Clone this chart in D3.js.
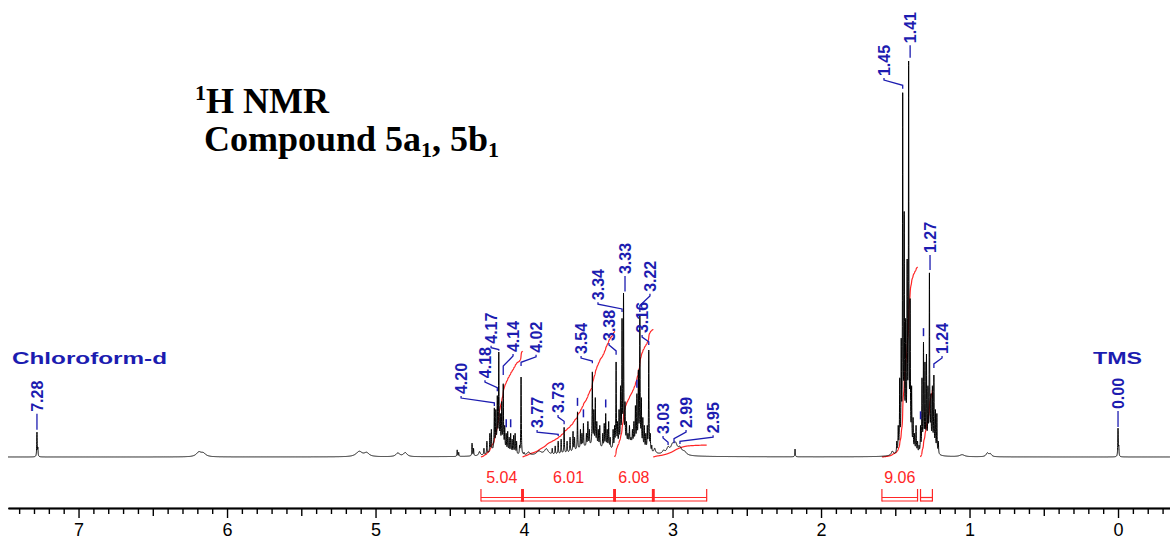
<!DOCTYPE html>
<html>
<head>
<meta charset="utf-8">
<script src="https://cdn.jsdelivr.net/npm/d3@7"></script>
<style>
  html, body { margin: 0; padding: 0; background: #fff; }
  svg { display: block; }
</style>
</head>
<body>
<svg id="chart" width="1170" height="542"></svg>
<script>
// ---- Spectrum data: sharp resonances (ppm, apex intensity, tallest = 100) ----
const peakPpm = [
  7.28, 7.274,
  4.45, 4.44, 4.35, 4.34, 4.27, 4.25, 4.23, 4.22, 4.20, 4.19, 4.18, 4.17, 4.16, 4.15, 4.14, 4.13,
  4.12, 4.11, 4.10, 4.09, 4.08, 4.07, 4.06, 4.05, 4.03, 4.02, 4.00,
  3.81, 3.79, 3.77, 3.75, 3.73, 3.71, 3.69, 3.67, 3.66, 3.64, 3.62, 3.61, 3.60, 3.58, 3.57, 3.56,
  3.54, 3.53, 3.52, 3.51, 3.50, 3.49, 3.47, 3.46, 3.45, 3.44, 3.43, 3.42, 3.40, 3.39, 3.38, 3.37,
  3.36, 3.35, 3.34, 3.33, 3.32, 3.31, 3.30, 3.29, 3.28, 3.27, 3.26, 3.25, 3.24, 3.23, 3.22, 3.21,
  3.20, 3.19, 3.18, 3.17, 3.16, 3.15, 3.14,
  2.175,
  1.49, 1.48, 1.47, 1.46, 1.45, 1.44, 1.43, 1.42, 1.41, 1.40, 1.39, 1.38, 1.37, 1.36, 1.35, 1.34,
  1.33, 1.32, 1.31, 1.30, 1.29, 1.28, 1.27, 1.26, 1.25, 1.24, 1.23, 1.22, 1.21,
  0.00, -0.005
];
const peakHeight = [
  6.3, 2.5,
  1.8, 1.2, 3.5, 2.2, 2.2, 4, 6, 7, 12.4, 12, 15.5, 26.5, 11, 14, 18.5, 8,
  6, 6.5, 5, 6, 4.5, 5.5, 6, 4, 3, 20.2, 1.2,
  2.2, 2.8, 4, 4.5, 7.5, 4, 5, 6.5, 5, 11.4, 7, 6, 8.5, 6, 9, 7,
  21.5, 12, 15, 9, 7, 8, 6, 8.5, 11, 7, 9, 5, 7, 8, 24, 9,
  12, 18, 35, 41.4, 14, 9, 6, 8, 5, 7, 9, 13, 16, 22, 35.6, 15,
  10, 8, 6, 8, 27, 6, 3,
  2,
  4, 8, 20, 30, 92, 62, 35, 50, 100, 40, 18, 10, 6, 8, 4, 3,
  8, 20, 29, 24, 26, 18, 46.5, 16, 18, 20.7, 12, 11, 4,
  7.3, 3
];
const peakHwhm = 0.0018;

// ---- Broad features (ppm, relative intensity, half width in ppm) ----
const humpPpm    = [6.19, 6.16, 5.11, 5.06, 4.85, 4.80, 4.30, 4.17, 3.97, 3.90, 3.85, 3.55, 3.28, 3.12, 3.06, 3.03, 3.00, 2.98, 2.95, 2.92, 1.52, 1.42, 1.26, 1.05, 0.88, 0.86];
const humpHeight = [1.1, 0.8, 1.3, 0.9, 0.9, 1.0, 1.0, 3.0, 0.8, 1.0, 1.5, 2.5, 3.0, 1.2, 0.8, 1.5, 2.0, 2.3, 1.6, 0.8, 1.0, 3.0, 2.5, 0.5, 0.9, 0.7];
const humpWidth  = [0.02, 0.02, 0.025, 0.02, 0.015, 0.015, 0.006, 0.04, 0.01, 0.02, 0.015, 0.12, 0.08, 0.006, 0.01, 0.012, 0.015, 0.015, 0.015, 0.015, 0.008, 0.03, 0.02, 0.02, 0.01, 0.01];

// ---- Integration regions ----
const intFrom  = [4.29, 4.01, 3.39, 3.13, 1.59, 1.33];
const intTo    = [4.01, 3.39, 3.13, 2.77, 1.35, 1.25];
const intValue = [5.04, 6.01, 6.08, 0.57, 9.06, 3.20];
const intShown = [true, true, true, false, true, false];

// ---- Peak picking labels ----
const pickPpm = [7.28, 4.20, 4.18, 4.17, 4.14, 4.02, 3.77, 3.73, 3.54, 3.38, 3.34, 3.33, 3.22, 3.16, 3.03, 2.99, 2.95, 1.45, 1.41, 1.27, 1.24, 0.00];
// unlabelled pick marks
const markPpm = [4.12, 4.09, 3.64, 3.60, 3.45, 3.24, 1.33, 1.31];

// ---- Axis ticks ----
const majorTicks = [7, 6, 5, 4, 3, 2, 1, 0];

// ---- Solvent / reference annotations ----
const solventNames = ["Chloroform-d", "TMS"];
const solventPpm = [7.28, 0.00];

// Label layout: text centre (ppm), text foot level, connector tip level
const pickTextPpm   = [7.28, 4.424, 4.263, 4.222, 4.074, 3.919, 3.912, 3.771, 3.616, 3.428, 3.502, 3.32, 3.152, 3.205, 3.064, 2.909, 2.727, 1.576, 1.40, 1.266, 1.185, 0.00];
const pickTextLevel = [11.4, 15.9, 19.9, 28.6, 26.5, 26.3, 7.3, 11.1, 26.0, 29.3, 39.6, 46.2, 41.7, 31.3, 5.8, 7.3, 6.0, 96.2, 104.5, 51.5, 26.0, 12.1];
const pickTipLevel  = [6.9, 12.9, 16.6, 26.8, 20.7, 23.0, 5.3, 8.3, 23.7, 25.8, 36.6, 41.8, 36.6, 28.3, 3.0, 3.5, 3.3, 93.0, 100.8, 47.2, 22.5, 7.6];

// ---- Scales ----
const svg = d3.select("#chart");
const x = d3.scaleLinear().domain([7.475, -0.35]).range([8, 1170]);
const y = d3.scaleLinear().domain([0, 100]).range([457, 61]);

function lorentz(p, c, h, w) { const d = p - c; return h * w * w / (w * w + d * d); }

// Line amplitudes are solved so that each apex lands on its listed height
const amp = peakHeight.slice();
function intensity(p) {
  let s = 0;
  for (let i = 0; i < peakPpm.length; i++) s += lorentz(p, peakPpm[i], amp[i], peakHwhm);
  for (let i = 0; i < humpPpm.length; i++) s += lorentz(p, humpPpm[i], humpHeight[i], humpWidth[i]);
  return s;
}
for (let it = 0; it < 40; it++) {
  const apex = peakPpm.map(intensity);
  peakPpm.forEach((p, i) => { amp[i] = Math.max(0, amp[i] + 0.7 * (peakHeight[i] - apex[i])); });
}

// Sample the spectrum finely, always including the line centres
const samplePpm = d3.range(7.475, -0.35, -0.0004).concat(peakPpm).sort((a, b) => b - a);
const spectrum = samplePpm.map(p => [p, intensity(p)]);

const line = d3.line().x(d => x(d[0])).y(d => y(d[1]));

// ---- Integral curves (cumulative area, scaled by the integral value) ----
const intUnit = 5.3; // intensity units per integral unit
const integrals = intFrom.map((a, i) => {
  const b = intTo[i];
  const ps = d3.range(a, b, -0.0004).concat([b]);
  const vals = ps.map(intensity);
  const cum = [0];
  for (let k = 1; k < ps.length; k++) cum.push(cum[k - 1] + (vals[k] + vals[k - 1]) / 2);
  const total = cum[cum.length - 1];
  return ps.map((p, k) => [p, cum[k] / total * intValue[i] * intUnit]);
});

const red = "#ff2626";
svg.append("g").selectAll("path").data(integrals).join("path")
  .attr("d", line)
  .attr("fill", "none")
  .attr("stroke", red)
  .attr("stroke-width", 1.2);

// ---- Spectrum trace ----
svg.append("path")
  .datum(spectrum)
  .attr("d", line)
  .attr("fill", "none")
  .attr("stroke", "#000")
  .attr("stroke-width", 1);

// ---- Integration brackets and values ----
const br = svg.append("g").attr("stroke", red).attr("fill", "none");
intFrom.forEach((a, i) => {
  const x0 = x(a), x1 = x(intTo[i]);
  br.append("line").attr("x1", x0).attr("x2", x1).attr("y1", 497.5).attr("y2", 497.5).attr("stroke-width", 1.2);
  br.append("line").attr("x1", x0).attr("x2", x1).attr("y1", 501).attr("y2", 501).attr("stroke-width", 1.2);
  const sharedL = i > 0 && intTo[i - 1] === a;
  const sharedR = i < intFrom.length - 1 && intFrom[i + 1] === intTo[i];
  br.append("line").attr("x1", x0).attr("x2", x0).attr("y1", 489).attr("y2", 501.5).attr("stroke-width", sharedL ? 2.6 : 1.2);
  br.append("line").attr("x1", x1).attr("x2", x1).attr("y1", 489).attr("y2", 501.5).attr("stroke-width", sharedR ? 2.6 : 1.2);
});
svg.append("g").selectAll("text").data(intValue.map((v, i) => i).filter(i => intShown[i])).join("text")
  .attr("x", i => (x(intFrom[i]) + x(intTo[i])) / 2)
  .attr("y", 483)
  .attr("text-anchor", "middle")
  .attr("font-family", "'Liberation Sans', Arial, sans-serif")
  .attr("font-size", 16)
  .attr("fill", red)
  .text(i => intValue[i].toFixed(2));

// ---- Peak labels ----
const blue = "#1c1cb0";
const pk = svg.append("g");
pickPpm.forEach((p, i) => {
  const xL = x(pickTextPpm[i]);
  const yB = y(pickTextLevel[i]);
  const xP = x(p);
  const yT = y(pickTipLevel[i]);
  let d;
  if (Math.abs(xL - xP) < 2) {
    d = `M${xL},${yB + 2}V${yT}`;
  } else {
    const y1 = yB + 4;
    const dy = Math.min(10, Math.max(0, (yT - y1) * 0.6));
    d = `M${xL},${yB + 2}V${y1}L${xP},${y1 + dy}V${Math.max(yT, y1 + dy)}`;
  }
  pk.append("path").attr("d", d).attr("fill", "none").attr("stroke", blue).attr("stroke-width", 1.3);
  pk.append("text")
    .attr("transform", `translate(${xL},${yB}) rotate(-90)`)
    .attr("dy", "0.36em")
    .attr("font-family", "'Liberation Sans', Arial, sans-serif")
    .attr("font-weight", "bold")
    .attr("font-size", 16)
    .attr("fill", blue)
    .text(p.toFixed(2));
});

// small marks above unlabelled picks
markPpm.forEach(p => {
  const top = y(intensity(p));
  pk.append("line").attr("x1", x(p)).attr("x2", x(p))
    .attr("y1", top - 14).attr("y2", top - 6)
    .attr("stroke", blue).attr("stroke-width", 1.5);
});

// solvent / reference names
svg.append("g").selectAll("text").data(solventNames).join("text")
  .attr("x", (d, i) => i === 0 ? 12 : x(solventPpm[i]) - 25)
  .attr("y", 364)
  .attr("textLength", (d, i) => i === 0 ? 155 : 49)
  .attr("lengthAdjust", "spacingAndGlyphs")
  .attr("font-family", "'Liberation Sans', Arial, sans-serif")
  .attr("font-weight", "bold")
  .attr("font-size", 17)
  .attr("fill", blue)
  .text(d => d);

// ---- Axis ----
const axisY = 508;
const minorTicks = d3.range(-3, 75).map(i => i / 10).filter(v => Math.round(v * 10) % 5 !== 0);
const halfTicks = d3.range(0, 8).map(i => i + 0.5).filter(v => v < 7.475);

const axG = svg.append("g").attr("transform", `translate(0,${axisY})`);
axG.append("g").call(d3.axisBottom(x).tickValues(minorTicks).tickSize(6).tickSizeOuter(0).tickFormat(""));
axG.append("g").call(d3.axisBottom(x).tickValues(halfTicks).tickSize(8).tickSizeOuter(0).tickFormat(""));
axG.append("g").call(d3.axisBottom(x).tickValues(majorTicks).tickSize(10).tickSizeOuter(0).tickPadding(5).tickFormat(d3.format("d")));
axG.selectAll(".domain").attr("stroke", "#000").attr("stroke-width", 1.6);
axG.selectAll(".tick line").attr("stroke", "#000").attr("stroke-width", 1.4);
axG.selectAll(".tick text")
  .attr("font-family", "'Liberation Sans', Arial, sans-serif")
  .attr("font-size", 18)
  .attr("fill", "#000");

// ---- Title ----
const serif = "'Liberation Serif', 'Times New Roman', serif";
const t1 = svg.append("text").attr("x", 195).attr("y", 113)
  .attr("font-family", serif).attr("font-weight", "bold").attr("font-size", 36).attr("fill", "#000");
t1.append("tspan").attr("font-size", 22).attr("dy", -13).text("1");
t1.append("tspan").attr("dy", 13).text("H NMR");

const t2 = svg.append("text").attr("x", 204).attr("y", 151)
  .attr("font-family", serif).attr("font-weight", "bold").attr("font-size", 36).attr("fill", "#000");
t2.append("tspan").text("Compound 5a");
t2.append("tspan").attr("font-size", 22).attr("dy", 6).text("1");
t2.append("tspan").attr("dy", -6).text(", 5b");
t2.append("tspan").attr("font-size", 22).attr("dy", 6).text("1");
</script>
</body>
</html>
